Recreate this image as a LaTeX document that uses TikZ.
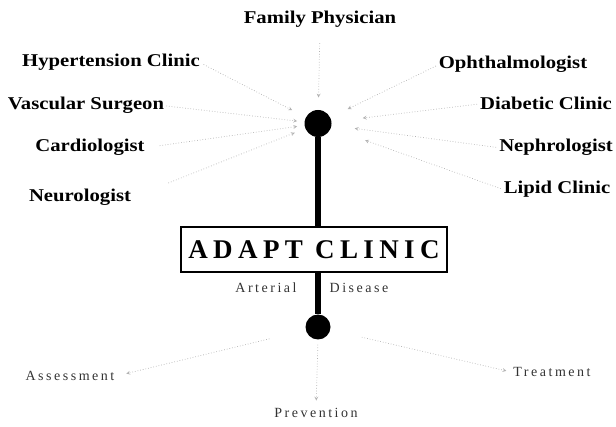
\documentclass[tikz,border=0pt]{standalone}
\usepackage{fontspec}
\setmainfont{Liberation Serif}
\newfontfamily\labelfont[FakeStretch=1.15]{Liberation Serif}
\newfontfamily\clinicfont[LetterSpace=20]{Liberation Serif}
\newfontfamily\spacedfont[LetterSpace=18]{Liberation Serif}
\usetikzlibrary{arrows,positioning}

\begin{document}
\begin{tikzpicture}[
        x=1pt, y=-1pt,
        source/.style={font=\labelfont\bfseries\fontsize{18}{20}\selectfont, anchor=base, inner sep=0pt},
        stage/.style={font=\spacedfont\fontsize{14}{16}\selectfont, text=black!80, anchor=base, inner sep=0pt},
        dot/.style={circle, fill=black, inner sep=0pt},
        clinic/.style={rectangle, draw=black, line width=2pt, minimum width=266pt, minimum height=45pt, inner sep=0pt, align=center, font=\clinicfont\bfseries\fontsize{27}{30}\selectfont},
        referral/.style={->, >=stealth, dotted, gray!60, line width=0.7pt},
        stem/.style={line width=6.5pt}
    ]
    \useasboundingbox (0,0) rectangle (616,427);

    % Hub
    \node[dot, minimum size=27pt] (topdot) at (318,123.5) {};
    \node[clinic] (clinic) at (314,249.5) {ADAPT CLINIC};
    \node[dot, minimum size=25pt] (botdot) at (318,327) {};
    \draw[stem] (topdot.south) -- (topdot.south |- clinic.north);
    \draw[stem] (clinic.south -| botdot.north) -- (botdot.north);
    \node[stage] (arterial) at (266,293) {Arterial};
    \node[stage] (disease) at (359,293) {Disease};

    % Referring sources
    \node[source] (family) at (320,24) {Family Physician};
    \node[source] (hyper) at (111,67) {Hypertension Clinic};
    \node[source] (vascular) at (86,110) {Vascular Surgeon};
    \node[source] (cardio) at (90,152) {Cardiologist};
    \node[source] (neuro) at (80,202) {Neurologist};
    \node[source] (ophth) at (513,69) {Ophthalmologist};
    \node[source] (diabetic) at (546,110) {Diabetic Clinic};
    \node[source] (nephro) at (556,152) {Nephrologist};
    \node[source] (lipid) at (557,194) {Lipid Clinic};

    % Outcomes
    \node[stage] (assess) at (70,381) {Assessment};
    \node[stage] (prevent) at (316,418) {Prevention};
    \node[stage] (treat) at (552,377) {Treatment};

    % Referrals in
    \draw[referral, shorten <=15pt, shorten >=26pt] (family.south) -- (topdot.center);
    \draw[referral, shorten <=4pt, shorten >=29pt] (hyper.east) -- (topdot.center);
    \draw[referral, shorten <=2pt, shorten >=21pt] (vascular.east) -- (topdot.center);
    \draw[referral, shorten <=15pt, shorten >=21pt] (cardio.east) -- (topdot.center);
    \draw[referral, shorten <=40pt, shorten >=25pt] (neuro.east) -- (topdot.center);
    \draw[referral, shorten <=3pt, shorten >=33pt] (ophth.west) -- (topdot.center);
    \draw[referral, shorten <=3pt, shorten >=45pt] (diabetic.west) -- (topdot.center);
    \draw[referral, shorten <=3pt, shorten >=37pt] (nephro.west) -- (topdot.center);
    \draw[referral, shorten <=3pt, shorten >=50pt] (lipid.west) -- (topdot.center);

    % Pathways out
    \draw[referral, shorten <=50pt, shorten >=12pt] (botdot.center) -- (assess.east);
    \draw[referral, shorten <=5pt, shorten >=8pt] (botdot.south) -- (prevent.north);
    \draw[referral, shorten <=45pt, shorten >=7pt] (botdot.center) -- (treat.west);

\end{tikzpicture}
\end{document}
